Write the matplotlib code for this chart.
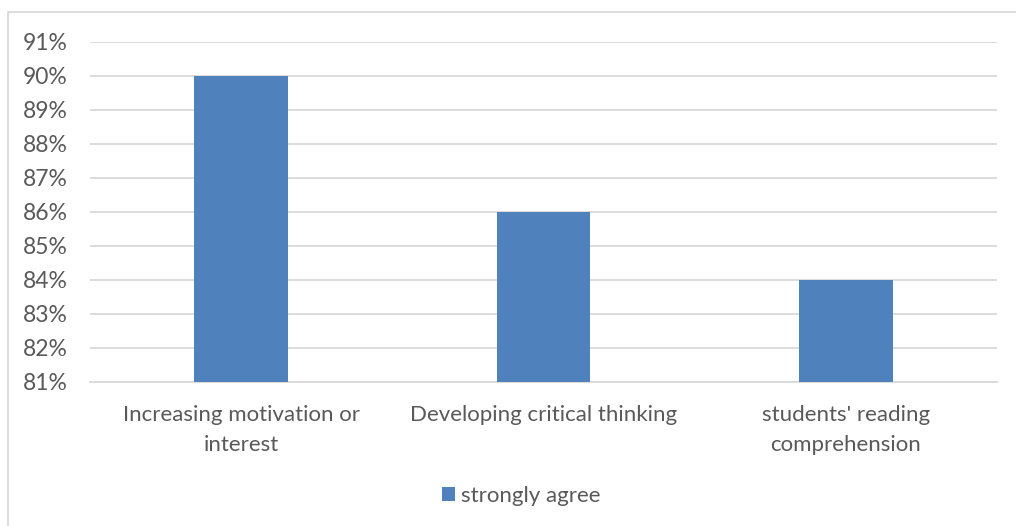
import matplotlib
matplotlib.use("Agg")
import matplotlib.pyplot as plt
from matplotlib.patches import Rectangle
from matplotlib.ticker import FuncFormatter

categories = ["Increasing motivation or\ninterest", "Developing critical thinking", "students' reading\ncomprehension"]
values = [90, 86, 84]
series_name = "strongly agree"

plt.rcParams['font.family'] = ['Lato', 'DejaVu Sans']
text_color = "#595959"
grid_color = "#d9d9d9"
bar_color = "#4f81bd"

fig = plt.figure(figsize=(10.16, 5.26), dpi=100)
fig.patches.append(Rectangle((8/1016, -0.1), 1.2, 1 - 12/526 + 0.1, transform=fig.transFigure,
                             fill=False, edgecolor=grid_color, linewidth=1.3, zorder=0))
ax = fig.add_axes([90/1016, 1 - 382/526, (997 - 90)/1016, (382 - 42)/526])

x = list(range(len(categories)))
bars = ax.bar(x, values, width=0.31, color=bar_color, label=series_name, zorder=3)
ax.set_xlim(-0.5, len(categories) - 0.5)
ax.set_ylim(81, 91)
ax.set_yticks(range(81, 92))
ax.yaxis.set_major_formatter(FuncFormatter(lambda v, p: f"{int(v)}%"))
ax.grid(axis='y', color=grid_color, linewidth=1.3, zorder=0)
ax.set_axisbelow(True)
for s in ['top', 'right', 'left']:
    ax.spines[s].set_visible(False)
ax.spines['bottom'].set_color(grid_color)
ax.spines['bottom'].set_linewidth(1.3)
ax.tick_params(axis='y', length=0, colors=text_color, labelsize=16.5, pad=16)
ax.tick_params(axis='x', length=0, colors=text_color, labelsize=16, pad=16.5)
ax.set_xticks(x)
ax.set_xticklabels(categories, linespacing=1.6)

fig.legend(handles=[bars], labels=[series_name], loc='center', bbox_to_anchor=(521/1016, 1 - 496/526),
           frameon=False, fontsize=16, labelcolor=text_color, handlelength=0.6, handleheight=0.6,
           handletextpad=0.25)

fig.savefig("out.png", dpi=100)
